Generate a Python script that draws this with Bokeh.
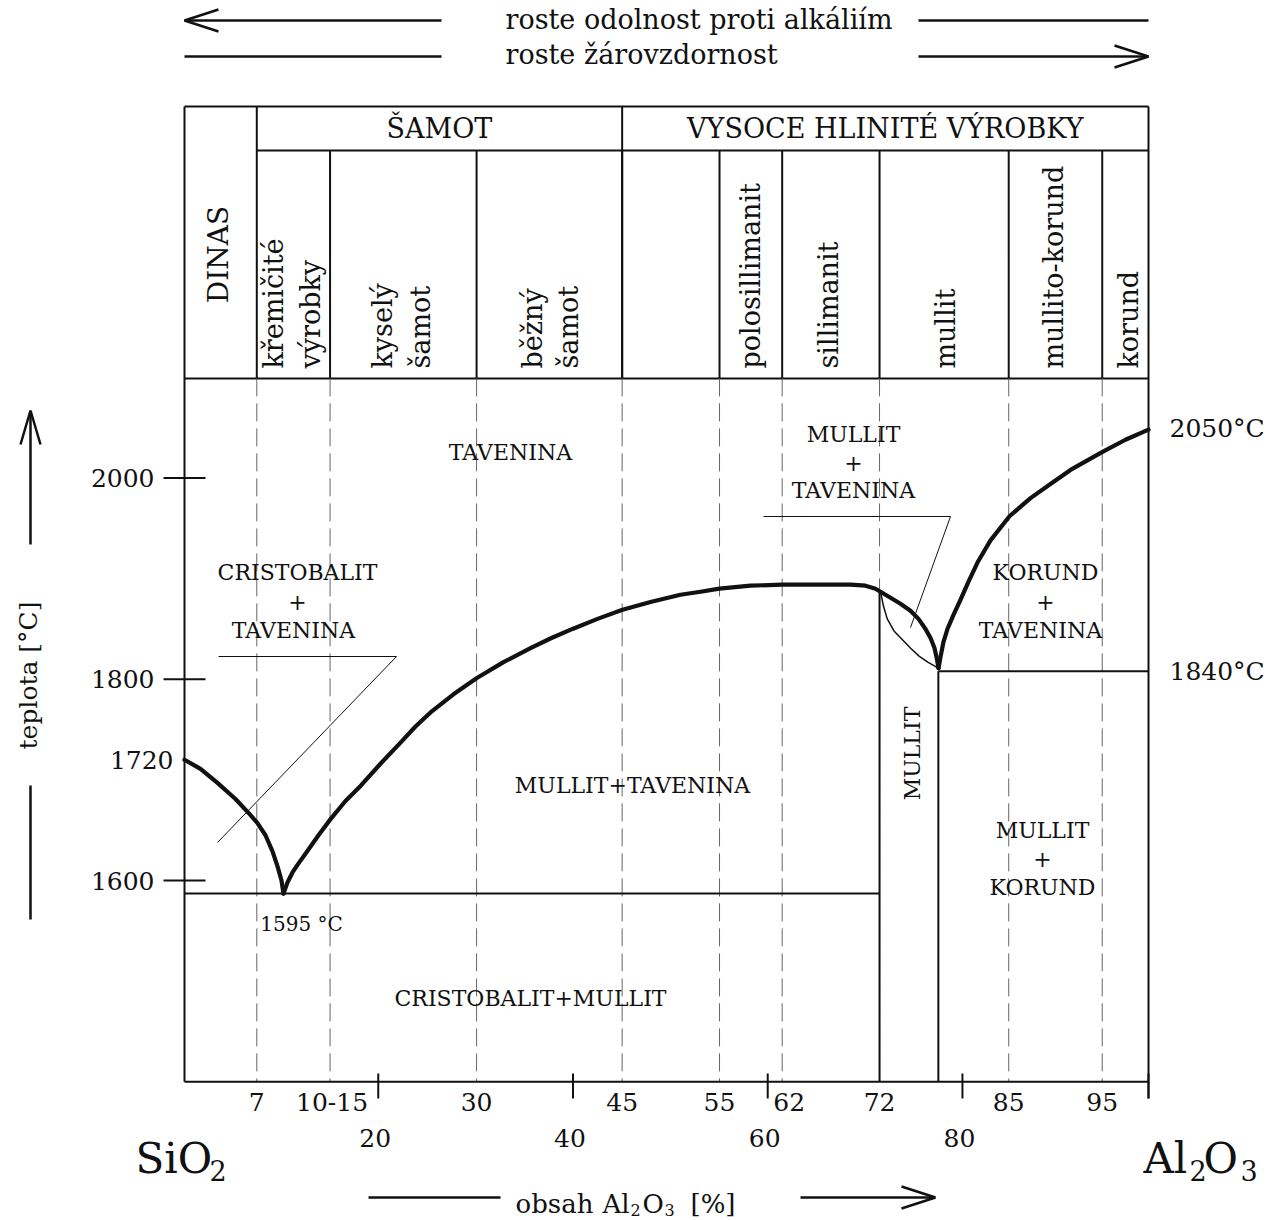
import math
from bokeh.plotting import figure
from bokeh.models import Range1d
from bokeh.core.properties import value
from bokeh.embed import file_html
from bokeh.resources import INLINE

# ---------------- data (as drawn in the reference) ----------------
# grade boundaries on the Al2O3 axis [%] and their labels
grade_x = [7.5, 15.1, 30.3, 45.4, 55.5, 62.0, 72.1, 85.5, 95.2]
grade_labels = ["7", "10-15", "30", "45", "55", "62", "72", "85", "95"]
# major ticks of the composition axis
major_x = [20.1, 40.3, 60.5, 80.7, 100.0]
major_labels = ["20", "40", "60", "80", ""]
# temperature ticks
temp_ticks = [1600, 1800, 2000]
temp_tick_labels = ["1600", "1800", "2000"]

# liquidus of cristobalite (SiO2 side)
silica_liq_x = [0.0, 1.66, 3.42, 5.29, 6.85, 7.57, 8.40, 9.13, 9.65, 10.06, 10.27]
silica_liq_t = [1720, 1711, 1697, 1681, 1665, 1657, 1645, 1629, 1614, 1600, 1587]
# liquidus of mullite
mullite_liq_x = [10.27, 10.68, 11.20, 11.83, 12.66, 13.90, 15.15, 16.70, 18.26,
                 20.33, 22.41, 23.96, 25.52, 27.90, 30.29, 33.09, 35.89, 38.07,
                 40.25, 42.84, 45.44, 48.44, 51.45, 53.53, 55.50, 58.71, 62.03,
                 65.98, 69.09, 70.64, 71.68, 72.20, 73.24, 74.27, 75.31, 76.14,
                 76.87, 77.39, 77.80, 78.01, 78.22]
mullite_liq_t = [1587, 1598, 1608, 1617, 1628, 1645, 1661, 1679, 1694,
                 1716, 1737, 1753, 1767, 1785, 1801, 1817, 1831, 1841,
                 1850, 1860, 1869, 1877, 1884, 1887, 1890, 1893, 1894,
                 1894, 1894, 1893, 1890, 1887, 1881, 1875, 1868, 1860,
                 1850, 1841, 1831, 1822, 1811]
# solidus of mullite (thin line)
mullite_sol_x = [72.2, 72.5, 72.9, 73.6, 74.5, 75.3, 76.2, 77.1, 78.2]
mullite_sol_t = [1887, 1873, 1860, 1848, 1839, 1831, 1823, 1817, 1811]
# liquidus of corundum
corund_liq_x = [78.22, 78.42, 78.73, 79.15, 79.77, 80.50, 81.33, 82.26, 83.61,
                85.58, 87.76, 89.83, 91.91, 93.57, 95.23, 97.61, 100.0]
corund_liq_t = [1811, 1822, 1837, 1850, 1864, 1879, 1897, 1916, 1938,
                1962, 1980, 1994, 2008, 2017, 2026, 2038, 2048]
eutectic_t = 1587          # 1595 °C eutectic line, as drawn
corund_eut_t = 1808        # 1840 °C mullite-corundum eutectic line, as drawn
mullite_left_x = 72.1
mullite_right_x = 78.2
t_bottom = 1400
t_top = 2099

FONT = value("DejaVu Serif")

# ---------------- figure ----------------
SX, X0, SY, Y0 = 9.64, 184.0, 1.00625, 477.5
W, H = 1272, 1220


def fx(px):
    return (px - X0) / SX


def fy(py):
    return 2000 + (Y0 - py) / SY


p = figure(width=W, height=H, output_backend="svg", toolbar_location=None,
           x_range=Range1d(fx(0), fx(W)), y_range=Range1d(fy(H), fy(0)),
           min_border=0, min_border_left=0, min_border_right=0,
           min_border_top=0, min_border_bottom=0)
p.axis.visible = False
p.grid.visible = False
p.outline_line_color = None
p.background_fill_color = "white"
p.border_fill_color = "white"

BLACK = "#111111"


def seg(x0, y0, x1, y1, w=2, color=BLACK, dash="solid"):
    p.segment(x0=[x0], y0=[y0], x1=[x1], y1=[y1], line_width=w,
              line_color=color, line_dash=dash)


def txt(x, y, s, size, align="center", baseline="middle", angle=0.0):
    p.text(x=[x], y=[y], text=[s], text_font=FONT, text_font_size=f"{size}px",
           text_align=align, text_baseline=baseline, angle=angle,
           text_color=BLACK)


# header table
T_HEAD = fy(106)
T_ROW = fy(150)
seg(0, T_HEAD, 100, T_HEAD)
seg(grade_x[0], T_ROW, 100, T_ROW)
seg(0, t_top, 100, t_top)
seg(0, T_HEAD, 0, t_bottom)
seg(100, T_HEAD, 100, fy(1098))
seg(grade_x[0], T_HEAD, grade_x[0], t_top)
seg(grade_x[3], T_HEAD, grade_x[3], t_top)
for gx in grade_x[1:]:
    seg(gx, T_ROW, gx, t_top)

txt((grade_x[0] + grade_x[3]) / 2, fy(128), "ŠAMOT", 27)
txt((grade_x[3] + 100) / 2, fy(128), "VYSOCE HLINITÉ VÝROBKY", 27)

V = math.pi / 2
txt(fx(218), fy(254), "DINAS", 28, angle=V)
col_texts = [(273, "křemičité"), (310, "výrobky"), (382, "kyselý"), (420, "šamot"),
             (532, "běžný"), (568, "šamot"), (750, "polosillimanit"),
             (828, "sillimanit"), (945, "mullit"), (1053, "mullito-korund"),
             (1128, "korund")]
for cx, s in col_texts:
    txt(fx(cx), fy(368), s, 27, align="left", angle=V)

# dashed grade lines through the diagram
for gx in grade_x:
    seg(gx, t_top, gx, t_bottom, w=1, color="#666666", dash="18 7")

# bottom axis
seg(0, t_bottom, 100, t_bottom)
for mx in major_x:
    seg(mx, fy(1073), mx, fy(1098))
for gx, lab, off in zip(grade_x, grade_labels, [0, 2, 0, 0, 0, 7, 0, 0, 0]):
    txt(gx + off / SX, fy(1101), lab, 25)
for mx, lab in zip(major_x, major_labels):
    if lab:
        txt(mx - 3 / SX, fy(1137), lab, 25)

# left axis ticks
for t, lab in zip(temp_ticks, temp_tick_labels):
    seg(fx(163), t, fx(205), t)
    txt(fx(154), t, lab, 25, align="right")
txt(fx(173), 1720, "1720", 25, align="right")
txt(fx(1169), corund_liq_t[-1] + 1, "2050°C", 25, align="left")
txt(fx(1169), corund_eut_t, "1840°C", 25, align="left")

# phase boundaries
seg(0, eutectic_t, mullite_left_x, eutectic_t)
seg(mullite_right_x, corund_eut_t, 100, corund_eut_t)
seg(mullite_left_x, mullite_liq_t[31], mullite_left_x, t_bottom)
seg(mullite_right_x, corund_eut_t, mullite_right_x, t_bottom)
p.line(mullite_sol_x, mullite_sol_t, line_width=1.5, line_color=BLACK,
       line_join="round")
for xs, ts in [(silica_liq_x, silica_liq_t), (mullite_liq_x, mullite_liq_t),
               (corund_liq_x, corund_liq_t)]:
    p.line(xs, ts, line_width=4.2, line_color=BLACK, line_join="round",
           line_cap="round")

# phase labels
LS = 22
txt(fx(510), fy(452), "TAVENINA", LS)
txt(fx(297), fy(572), "CRISTOBALIT", LS)
txt(fx(297), fy(601), "+", LS)
txt(fx(293), fy(630), "TAVENINA", LS)
seg(fx(218), fy(656), fx(396), fy(656), w=1)
seg(fx(396), fy(656), fx(217), fy(842), w=1)
txt(fx(632), fy(785), "MULLIT+TAVENINA", LS)
txt(fx(853), fy(434), "MULLIT", LS)
txt(fx(853), fy(462), "+", LS)
txt(fx(853), fy(490), "TAVENINA", LS)
seg(fx(763), fy(516), fx(950), fy(516), w=1)
seg(fx(950), fy(516), fx(910), fy(627), w=1)
txt(fx(1045), fy(572), "KORUND", LS)
txt(fx(1045), fy(601), "+", LS)
txt(fx(1040), fy(630), "TAVENINA", LS)
txt(fx(912), fy(753), "MULLIT", LS, angle=V)
txt(fx(1042), fy(830), "MULLIT", LS)
txt(fx(1042), fy(858), "+", LS)
txt(fx(1042), fy(887), "KORUND", LS)
txt(fx(301), fy(923), "1595 °C", 20)
txt(fx(530), fy(998), "CRISTOBALIT+MULLIT", LS)


# arrows and captions
def arrow_head(tx, ty, direction, length=34, spread=11, w=2.5):
    sgn = 1 if direction == "left" else -1
    for s in (-1, 1):
        seg(fx(tx), fy(ty), fx(tx + sgn * length), fy(ty + s * spread), w=w)


def varrow_head(tx, ty, length=34, spread=10, w=2.5):
    for s in (-1, 1):
        seg(fx(tx), fy(ty), fx(tx + s * spread), fy(ty + length), w=w)


seg(fx(184), fy(20), fx(441), fy(20), w=2.5)
arrow_head(184, 20, "left")
seg(fx(918), fy(20), fx(1148), fy(20), w=2.5)
seg(fx(184), fy(56), fx(441), fy(56), w=2.5)
seg(fx(918), fy(56), fx(1148), fy(56), w=2.5)
arrow_head(1148, 56, "right")
txt(fx(505), fy(19), "roste odolnost proti alkáliím", 27, align="left")
txt(fx(505), fy(54), "roste žárovzdornost", 27, align="left")

# y-axis title
seg(fx(30), fy(544), fx(30), fy(411), w=2.5)
varrow_head(30, 410)
seg(fx(30), fy(785), fx(30), fy(919), w=2.5)
txt(fx(28), fy(671), "teplota  [°C]", 25, angle=V)

# x-axis title, built from pieces so the subscripts sit low
seg(fx(368), fy(1197), fx(500), fy(1197), w=2.5)
BL = 1203
txt(fx(515), fy(BL), "obsah", 26, align="left", baseline="alphabetic")
txt(fx(602), fy(BL), "Al", 26, align="left", baseline="alphabetic")
txt(fx(630), fy(BL + 6), "2", 16, align="left", baseline="alphabetic")
txt(fx(642), fy(BL), "O", 26, align="left", baseline="alphabetic")
txt(fx(664), fy(BL + 6), "3", 16, align="left", baseline="alphabetic")
txt(fx(690), fy(BL), "[%]", 26, align="left", baseline="alphabetic")
seg(fx(800), fy(1197), fx(934), fy(1197), w=2.5)
arrow_head(935, 1197, "right")

# component names
txt(fx(135), fy(1158), "SiO", 42, align="left", baseline="alphabetic")
txt(fx(209), fy(1170), "2", 27, align="left", baseline="alphabetic")
txt(fx(1143), fy(1158), "Al", 42, align="left", baseline="alphabetic")
txt(fx(1189), fy(1170), "2", 27, align="left", baseline="alphabetic")
txt(fx(1203), fy(1158), "O", 42, align="left", baseline="alphabetic")
txt(fx(1240), fy(1170), "3", 27, align="left", baseline="alphabetic")

with open("out.html", "w", encoding="utf-8") as f:
    f.write(file_html(p, INLINE))
